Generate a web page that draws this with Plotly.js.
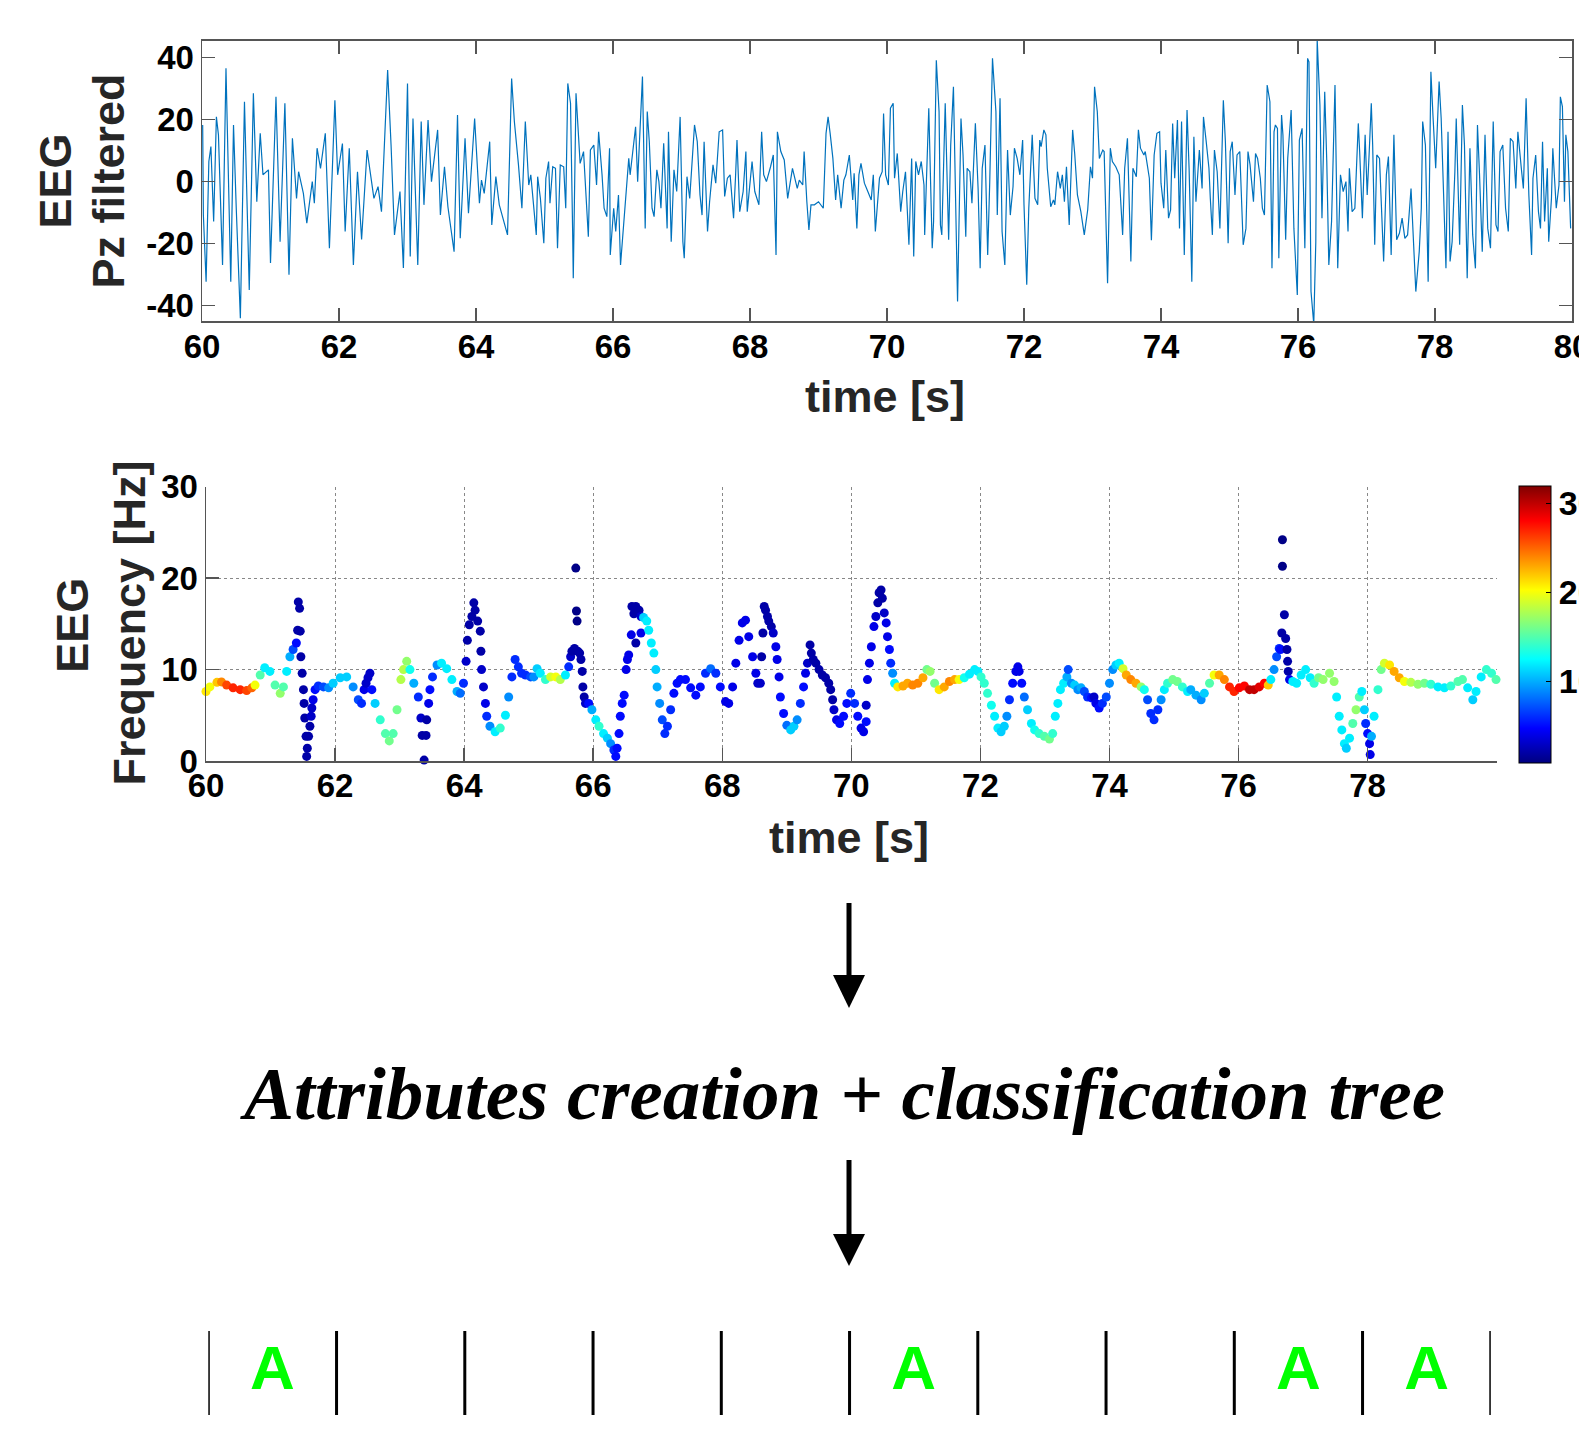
<!DOCTYPE html>
<html><head><meta charset="utf-8">
<script src="https://cdn.plot.ly/plotly-3.0.1.min.js"></script>
<style>html,body{margin:0;padding:0;background:#fff}#chart{width:1579px;height:1430px}</style>
</head><body><div id="chart"></div>
<script>
// ---------------- DATA ----------------
// Filtered EEG (Pz) trace, time [s] and amplitude
const eegTime = [
60.01,60.02,60.06,60.10,60.13,60.17,60.21,60.24,60.30,60.35,
60.42,60.46,60.50,60.56,60.62,60.69,60.75,60.80,60.85,60.89,
60.97,61.00,61.08,61.14,61.21,61.27,61.32,61.38,61.41,61.48,
61.53,61.61,61.64,61.68,61.73,61.80,61.86,61.94,61.98,62.05,
62.09,62.15,62.21,62.27,62.33,62.41,62.51,62.57,62.62,62.71,
62.76,62.81,62.89,62.94,63.00,63.04,63.08,63.15,63.20,63.24,
63.30,63.35,63.44,63.48,63.54,63.59,63.68,63.73,63.77,63.84,
63.89,63.98,64.05,64.08,64.12,64.20,64.23,64.29,64.34,64.46,
64.52,64.56,64.62,64.67,64.72,64.77,64.80,64.88,
64.90,64.94,64.99,65.02,65.06,65.08,65.12,65.16,65.19,65.23,
65.28,65.31,65.34,65.38,65.41,65.42,65.46,65.50,65.52,65.57,
65.60,65.64,65.67,65.72,65.76,65.79,65.84,65.87,65.91,65.95,
65.96,66.01,66.04,66.08,66.11,66.18,66.23,66.25,66.33,66.36,
66.40,66.43,66.47,66.50,66.53,66.57,66.60,66.64,66.67,66.70,
66.74,66.79,66.81,66.85,66.89,66.93,66.98,67.02,67.04,67.08,
67.12,67.17,67.19,67.23,67.27,67.30,67.33,67.38,67.41,67.46,
67.50,67.55,67.60,67.63,67.67,67.71,67.76,67.79,67.81,67.85,
67.90,67.94,67.96,68.03,68.07,68.13,68.17,68.20,68.24,68.30,
68.34,68.38,68.40,68.45,68.50,68.55,68.62,68.69,68.72,68.77,
68.79,68.83,68.86,68.89,68.94,69.00,69.07,69.11,69.14,69.17,
69.21,69.25,69.28,69.33,69.37,69.40,69.45,69.50,69.52,69.56,
69.59,69.62,69.67,69.72,69.77,69.80,69.83,69.89,
69.93,69.95,69.98,70.02,70.05,70.09,70.11,70.15,70.20,70.23,
70.27,70.32,70.36,70.39,70.42,70.46,70.50,70.54,70.55,70.61,
70.62,70.66,70.68,70.72,70.76,70.78,70.80,70.85,70.90,70.93,
70.97,71.00,71.03,71.08,71.11,71.15,71.17,71.21,71.24,71.29,
71.33,71.36,71.39,71.43,71.47,71.50,71.54,71.59,71.61,71.65,
71.68,71.72,71.76,71.80,71.84,71.86,71.90,71.94,71.98,72.00,
72.04,72.07,72.12,72.16,72.20,72.23,72.25,72.29,72.32,72.34,
72.39,72.43,72.45,72.49,72.53,72.56,72.59,72.62,72.66,72.71,
72.74,72.78,72.83,72.88,72.93,72.97,73.00,73.03,73.07,73.10,
73.15,73.17,73.22,73.26,73.29,73.34,73.39,73.44,73.47,73.51,
73.56,73.59,73.64,73.67,73.70,73.75,73.77,73.83,73.86,73.90,
73.94,73.98,74.00,74.04,74.07,74.11,74.14,74.17,74.20,74.24,
74.27,74.30,74.34,74.38,74.41,74.45,74.48,74.51,74.56,74.60,
74.62,74.66,74.70,74.72,
74.75,74.78,74.82,74.86,74.91,74.94,74.98,75.01,75.04,75.08,
75.11,75.15,75.20,75.24,75.27,75.30,75.35,75.38,75.41,75.45,
75.48,75.51,75.55,75.59,75.62,75.65,75.67,75.70,75.72,75.76,
75.78,75.82,75.85,75.90,75.94,75.99,76.02,76.06,76.10,76.14,
76.16,76.19,76.23,76.26,76.28,76.32,76.35,76.39,76.42,76.45,
76.49,76.54,76.56,76.58,76.62,76.66,76.70,76.73,76.75,76.79,
76.83,76.88,76.90,76.94,76.98,77.01,77.04,77.07,77.09,77.12,
77.15,77.19,77.25,77.29,77.32,77.36,77.40,77.44,77.48,77.52,
77.56,77.60,77.65,77.67,77.72,77.77,77.80,77.82,77.86,77.90,
77.94,77.97,78.01,78.06,78.09,78.16,78.19,78.22,78.25,78.29,
78.31,78.36,78.40,78.43,78.47,78.51,78.55,78.59,78.62,78.65,
78.69,78.73,78.77,78.81,78.85,78.89,78.92,78.95,78.99,79.03,
79.07,79.10,79.14,79.18,79.21,79.26,79.29,79.33,79.37,79.41,
79.43,79.47,79.51,79.54,79.57,79.60,79.64,79.66,79.70,79.72,
79.77,79.81,79.83,79.86,79.89,79.91,79.94,79.98];
const eegValue = [
18.3,-10.8,-32.3,6.5,11.3,-12.9,20.9,15.1,-26.9,36.6,
-32.3,18.3,-8.6,-44.1,25.8,-35.0,28.5,-6.5,15.6,2.2,
3.8,-26.3,27.4,-19.4,25.3,-30.1,14.0,-5.4,3.2,-3.8,
-13.4,0,-7,10.8,4.3,15.6,-21.5,26.3,2.2,12.3,
-16.1,10.8,-26.9,3.2,-18.7,10.2,-5.4,-1.6,-9.7,36.0,
11.8,-17.2,-3.2,-27.9,31.7,-24.2,20.4,-26.9,19.4,-7.5,
19.9,0,16.7,-10.8,4.8,-8.1,-22.6,21.5,-18.3,14.0,
-10.2,20.4,-7,0.5,-3.8,12.9,-14.0,1.6,-7.5,-17.2,
33.3,19.4,5.4,-8.6,19.4,-1.1,2.2,-17.2,
1.6,-5.4,-19.9,1.1,6.5,-7,4.8,4.3,-21.5,5.4,
4.8,-8.6,31.7,25.3,-15.1,-31.2,28.5,15.1,5.9,9.7,
-2.2,-17.8,10.2,11.8,-1.1,16.1,2.2,-8.6,-11.3,10.8,
-23.7,-8.6,-16.1,-4.3,-26.9,-8.1,7.5,2.2,17.7,0,
19.4,33.9,-15.1,22.6,12.9,-8.6,-11.3,3.8,0,-8.6,
12.4,-15.1,16.1,-19.4,3.8,-3.2,20.9,-19.4,-24.7,1.6,
-5.4,11.8,18.3,12.9,-4.3,-10.8,12.9,-16.1,-6.5,5.4,
-0.5,16.1,16.7,-4.8,1.1,2.2,-11.8,2.2,13.4,-9.7,
-3.2,9.7,-9.7,6.5,-3.2,-7.5,16.1,2.2,0,4.8,
8.6,-23.7,16.1,9.7,7,-5.4,4.3,-2.2,0.5,-1.1,
9.7,-6.5,-15.6,-7.5,-7.5,-6.5,-8.6,15.6,20.9,15.6,
7.5,-5.9,2.2,-8.6,0.5,2.2,8.6,-5.9,2.7,-15.1,
2.2,5.9,-0.5,-3.2,-5.9,2.2,-16.1,1.1,
3.2,22.0,2.2,-1.1,23.7,25.3,1.1,9.1,-9.7,-3.2,
3.2,-20.4,7.5,-24.2,6.5,2.2,6.5,-1.1,-17.2,23.7,
16.1,-21.5,-12.9,39.2,22.6,-14.0,-17.2,25.3,-18.8,11.8,
30.6,-4.3,-38.7,20.4,8.6,-17.8,4.3,3.2,-7,18.8,
-2.2,-28.0,4.3,11.8,-23.7,0,39.8,22.6,-10.8,26.9,
-16.1,-26.9,10.2,-10.8,-1.6,10.8,7.5,2.2,13.4,-7.5,
-33.3,-8.6,15.1,-5.4,-7.5,13.4,11.3,16.7,15.1,4.3,
-8.1,-5.9,-7.5,3.2,-2.2,2.2,-6.5,4.8,-14.0,16.7,
9.1,-4.3,-9.7,-17.2,-9.1,4.8,1.1,30.6,22.6,7.5,
10.2,9.7,-32.8,10.8,6.5,4.8,2.2,-17.2,4.3,14.0,
-25.8,4.3,1.6,16.7,10.8,8.6,9.7,1.1,-18.9,8.6,
15.6,16.1,-0.5,-8.6,10.2,-11.8,-9.1,18.8,1.1,19.9,
-15.1,19.4,-23.7,23.1,4.3,-32.3,14.5,-6.5,10.2,-2.2,
20.9,12.9,4.3,-5.4,
-17.2,10.2,3.2,-15.1,26.3,12.9,-19.9,9.7,12.9,-4.3,
8.6,9.7,-20.4,-15.1,9.7,5.4,-6.5,9.1,7.5,1.1,
-8.6,-10.8,31.2,25.8,-28.0,16.1,18.3,17.2,-24.7,21.5,
15.1,-18.8,7.5,23.1,-15.1,-36.6,13.4,17.2,-21.5,39.8,
38.7,-35.5,-46,-19.4,46,24.7,-11.8,29.0,6.5,-26.9,
-12.9,31.2,-7.5,-28.0,2.2,-3.2,0,-16.1,4.3,-9.7,
-8.6,18.8,9.7,-11.8,15.1,-4.3,9.7,25.3,11.8,-20.4,
8.6,7.5,-25.8,2.2,8.1,-23.7,15.1,-18.8,-16.7,-11.8,
-18.3,-17.2,-2.2,-11.3,-35.5,-22.6,-8.6,19.4,11.8,-32.3,
35.5,21.5,4.3,32.3,20.4,-28.0,16.1,-25.8,-19.4,3.2,
20.4,-20.4,24.7,11.8,-31.2,10.8,-17.2,-28.0,18.3,2.2,
-22.6,15.1,-15.1,-21.5,19.4,-14.0,-16.1,9.7,11.8,-8.6,
-16.1,14.0,12.9,-2.2,16.1,4.3,-2.2,26.9,-4.3,-23.7,
1.1,8.6,-9.7,-15.1,12.9,-12.9,4.3,-19.4,-5.4,10.8,
-8.6,-1.1,27.4,24.2,-6.5,15.1,9.7,-15.1];

// EEG frequency estimate: time [s], frequency [Hz], colour-coded level
const freqTime = [
60.00,60.06,60.17,60.24,60.32,60.42,60.53,60.63,60.71,60.76,
60.84,60.91,60.99,61.07,61.15,61.20,61.25,61.30,61.35,61.40,
61.42,61.43,61.45,61.46,61.47,61.49,61.51,61.52,61.53,61.55,
61.56,61.57,61.59,61.61,61.63,61.64,61.66,61.69,61.74,61.82,
61.90,61.97,62.08,62.18,62.28,62.36,62.41,62.45,62.48,62.51,
62.54,62.57,62.62,62.70,62.78,62.84,62.90,62.96,63.02,63.06,
63.11,63.16,63.22,63.29,63.33,63.35,63.38,63.41,63.42,63.45,
63.47,63.51,63.58,63.65,63.73,63.81,63.89,63.94,63.99,64.03,
64.05,64.08,64.12,64.15,64.17,64.21,64.25,64.26,64.27,64.30,
64.33,64.35,64.40,64.48,64.56,64.64,64.69,64.74,64.79,64.84,
64.89,64.95,
65.03,65.08,65.13,65.18,65.26,65.34,65.42,65.49,65.57,65.62,
65.65,65.67,65.71,65.73,65.74,65.75,65.76,65.79,65.81,65.83,
65.84,65.86,65.88,65.93,65.98,66.04,66.09,66.16,66.22,66.27,
66.32,66.35,66.37,66.40,66.42,66.45,66.48,66.51,66.53,66.55,
66.59,66.60,66.63,66.66,66.66,66.71,66.74,66.74,66.78,66.83,
66.86,66.90,66.94,66.97,66.99,67.03,67.07,67.11,67.15,67.20,
67.25,67.30,67.35,67.43,67.51,67.59,67.66,67.74,67.82,67.90,
67.97,68.05,68.10,68.16,68.21,68.26,68.31,68.36,68.41,68.47,
68.52,68.55,68.59,68.61,68.63,68.65,68.67,68.70,68.72,68.76,
68.79,68.83,68.85,68.88,68.90,68.95,69.00,69.06,69.11,69.16,
69.21,69.26,69.29,69.32,69.36,69.38,69.41,69.45,69.50,69.55,
69.60,69.65,69.68,69.71,69.73,69.77,69.82,69.88,69.93,
69.99,70.05,70.10,70.15,70.19,70.23,70.23,70.25,70.28,70.31,
70.35,70.38,70.41,70.43,70.46,70.48,70.51,70.54,70.56,70.59,
70.61,70.64,70.67,70.72,70.80,70.87,70.95,71.03,71.11,71.17,
71.22,71.29,71.36,71.44,71.52,71.60,71.67,71.75,71.83,71.91,
71.96,72.01,72.06,72.11,72.17,72.22,72.27,72.32,72.37,72.41,
72.45,72.50,72.55,72.58,72.60,72.64,72.68,72.73,72.79,72.84,
72.91,72.99,73.07,73.12,73.16,73.20,73.24,73.29,73.34,73.36,
73.41,73.46,73.51,73.56,73.61,73.66,73.72,73.76,73.79,73.84,
73.89,73.95,74.00,74.05,74.10,74.15,74.21,74.26,74.33,74.41,
74.49,74.54,74.59,74.64,74.69,74.75,74.80,74.85,74.90,74.98,
75.05,75.13,75.21,
75.26,75.34,75.42,75.47,75.55,75.62,75.70,75.78,75.86,75.93,
76.01,76.09,76.17,76.24,76.32,76.40,76.46,76.50,76.55,76.59,
76.63,76.65,76.67,76.68,76.68,76.71,76.73,76.75,76.76,76.77,
76.79,76.84,76.90,76.97,77.04,77.11,77.17,77.24,77.31,77.41,
77.48,77.52,77.56,77.60,77.64,77.67,77.72,77.77,77.82,77.87,
77.91,77.95,77.97,78.00,78.03,78.04,78.06,78.10,78.16,78.21,
78.26,78.34,78.41,78.49,78.57,78.67,78.78,78.88,78.98,79.09,
79.19,79.29,79.40,79.47,79.55,79.63,79.68,79.76,79.84,79.92,
79.99];
const freqHz = [
7.6,8.1,8.6,8.65,8.3,8.0,7.8,7.7,8.0,8.3,
9.4,10.2,9.8,8.3,7.4,8.1,9.8,11.4,12.2,12.9,
14.3,17.4,16.7,14.2,11.4,9.6,7.8,6.3,4.7,2.7,
0.5,1.4,2.7,3.8,4.9,5.8,6.7,7.8,8.2,8.1,
8.0,8.5,9.1,9.2,8.1,6.7,6.3,7.8,8.5,9.1,
9.6,7.8,6.3,4.5,3.0,2.2,3.0,5.6,8.9,10.0,
10.9,10.0,8.5,7.0,4.7,2.8,0.1,2.8,4.5,6.3,
7.8,9.2,10.5,10.7,10.1,8.9,7.6,7.4,8.5,10.9,
13.2,14.9,15.8,17.3,16.5,15.3,14.2,12.0,10.0,8.1,
6.3,4.9,3.8,3.2,3.6,5.0,7.0,9.2,11.1,10.3,
9.6,9.4,
9.2,9.2,10.1,9.6,8.9,9.2,9.2,8.9,9.4,10.3,
11.4,12.0,12.3,21.1,16.4,15.3,12.0,11.8,11.1,9.8,
8.1,7.0,6.3,6.3,5.6,4.5,3.8,3.0,2.5,1.9,
1.2,0.5,1.4,3.0,4.9,6.3,7.2,10.0,11.1,11.6,
13.8,16.9,16.1,16.9,12.9,16.5,15.8,14.0,15.7,15.3,
14.3,12.9,11.8,10.0,8.1,6.3,4.5,3.0,3.8,5.6,
7.4,8.5,8.9,8.9,8.0,7.2,8.1,9.6,10.1,9.6,
8.1,6.5,6.3,8.1,10.7,13.2,15.1,15.4,13.6,11.4,
9.6,8.5,8.5,11.4,14.0,16.9,16.5,15.8,15.3,14.7,
14.0,12.5,11.1,9.2,7.0,5.2,3.9,3.4,3.8,4.5,
6.3,8.1,9.6,10.7,12.7,11.8,11.1,10.7,10.0,9.4,
9.1,8.5,7.8,6.7,5.6,4.5,4.1,4.9,6.3,
7.4,6.3,4.9,3.6,3.2,4.3,6.1,8.9,10.7,12.5,
14.7,15.8,17.3,18.4,18.7,17.8,16.2,15.1,13.6,12.2,
10.7,9.6,8.5,8.1,8.2,8.5,8.3,8.5,9.1,10.0,
9.8,8.5,7.8,8.1,8.7,8.9,8.9,9.1,9.5,10.0,
9.8,9.2,8.5,7.4,6.1,4.9,3.6,3.2,3.8,4.9,
6.7,8.5,9.8,10.3,9.8,8.5,7.0,5.6,4.1,3.4,
3.0,2.7,2.4,3.0,4.9,6.3,7.8,8.5,9.2,10.0,
8.5,8.3,7.8,8.0,7.6,7.0,6.9,7.0,6.3,5.8,
6.3,7.0,8.5,10.0,10.5,10.7,10.1,9.4,8.9,8.5,
8.1,7.8,6.7,5.2,4.5,5.6,6.7,7.8,8.5,8.9,
8.7,8.1,7.6,
7.8,7.2,6.7,7.4,8.5,9.4,9.4,8.9,8.1,7.6,
8.0,8.2,7.8,7.8,8.1,8.5,8.3,8.9,10.0,11.4,
12.3,12.2,14.0,24.2,21.3,16.0,13.4,12.2,10.9,9.8,
8.9,8.7,8.5,9.4,10.0,9.1,8.5,9.1,8.9,9.6,
8.7,7.0,4.9,3.4,1.9,1.4,2.5,4.1,5.6,7.0,
7.6,5.6,4.1,3.0,1.9,0.7,2.7,4.9,7.8,10.0,
10.7,10.5,9.8,9.1,8.7,8.6,8.4,8.5,8.4,8.1,
8.0,8.2,8.7,8.9,8.0,6.7,7.6,9.2,10.0,9.6,
8.9];
const freqLevel = [
21,20,22,24,26,27,27,26,25,20,
15,12,12,15,17,15,12,10,7,5,
2,2,2,2,2,2,2,2,2,2,
2,2,2,2,3,3,4,5,6,7,
9,11,11,11,9,7,6,4,3,3,
3,5,11,14,15,16,15,16,18,18,
17,13,10,6,3,2,2,2,2,4,
5,6,9,12,12,12,10,8,6,3,
2,2,2,2,2,2,2,2,3,3,
4,6,9,12,14,12,9,6,6,6,
6,6,
7,9,11,12,14,19,20,18,12,6,
3,2,2,1,1,1,2,2,2,2,
2,2,3,5,10,12,14,12,11,9,
6,5,5,5,5,5,5,4,4,4,
4,2,2,2,2,2,3,4,11,12,
12,12,12,11,10,9,7,6,6,6,
5,5,5,5,5,5,5,6,8,6,
5,4,4,4,4,4,4,4,4,4,
4,3,3,2,2,2,2,2,2,2,
3,4,4,4,5,5,8,11,11,9,
6,5,4,3,2,2,2,2,2,2,
2,2,2,2,3,4,5,5,5,
6,6,5,4,4,5,3,4,4,4,
4,3,2,2,2,2,3,4,4,5,
6,9,12,21,23,23,24,24,23,16,
17,16,21,23,24,23,20,13,12,12,
12,14,14,14,13,12,12,11,11,9,
6,5,4,4,4,5,8,11,12,13,
14,15,16,14,12,12,12,12,10,7,
9,11,9,10,7,6,5,3,4,5,
6,7,9,9,11,12,19,23,24,23,
17,13,7,6,6,6,9,12,14,16,
16,14,12,
10,10,9,11,15,20,23,24,27,27,
28,28,30,30,29,28,22,12,9,7,
6,5,2,1,1,2,2,2,2,2,
4,12,12,12,12,12,14,16,17,17,
17,12,12,12,12,11,12,15,17,15,
12,11,6,5,4,4,10,12,14,16,
19,21,23,23,20,18,17,16,14,12,
12,14,15,15,12,11,12,12,14,14,
15];

// 2-second classification epochs and their labels
const epochEdges = [60,62,64,66,68,70,72,74,76,78,80];
const epochLabels = ['A','','','','','A','','','A','A'];

// Axis ticks
const eegTicks = [-40,-20,0,20,40];
const eegTickText = ['-40','-20','0','20','40'];
const timeTicks = [60,62,64,66,68,70,72,74,76,78,80];
const freqTimeTicks = [60,62,64,66,68,70,72,74,76,78];
const freqTicks = [0,10,20,30];
const levelTicks = [10,20,30];

// ---------------- LAYOUT ----------------
const W = 1579, H = 1430;
const px = x => x / W;
const py = y => 1 - y / H;

const jet = [[0,'rgb(0,0,128)'],[0.125,'rgb(0,0,255)'],[0.375,'rgb(0,255,255)'],
             [0.625,'rgb(255,255,0)'],[0.875,'rgb(255,0,0)'],[1,'rgb(128,0,0)']];

const FONT = 'Liberation Sans, Arial, Helvetica, sans-serif';
const AX = '#555555';

const epochCenters = epochEdges.slice(0,-1).map((e,i)=>(e+epochEdges[i+1])/2);

const traces = [
  {type:'scatter', mode:'lines', x:eegTime, y:eegValue, xaxis:'x', yaxis:'y',
   line:{color:'#0072BD', width:1.2}, hoverinfo:'skip'},
  {type:'scatter', mode:'markers', x:freqTime, y:freqHz, xaxis:'x2', yaxis:'y2',
   cliponaxis:false, hoverinfo:'skip',
   marker:{size:9, color:freqLevel, colorscale:jet, cmin:0.8, cmax:32, line:{width:0},
     showscale:true,
     colorbar:{x:px(1519.3), xanchor:'left', xref:'paper', y:py(624.2), yanchor:'middle', yref:'paper',
       len:277, lenmode:'pixels', thickness:32, thicknessmode:'pixels', xpad:0, ypad:0,
       outlinewidth:1, outlinecolor:'#000', borderwidth:0,
       tickvals:levelTicks, ticks:'inside', ticklen:5, tickcolor:'#000',
       tickfont:{family:FONT, size:34, color:'#000', weight:'bold'}}}},
  {type:'scatter', mode:'text', x:epochCenters, y:epochCenters.map(()=>0.5), text:epochLabels,
   xaxis:'x3', yaxis:'y3', textposition:'middle center', hoverinfo:'skip', cliponaxis:false,
   textfont:{family:FONT, size:62, color:'#00FF00', weight:'bold'}}
];

const shapes = [];
epochEdges.forEach(e => shapes.push({type:'line', xref:'x3', yref:'y3', x0:e, x1:e, y0:0, y1:1,
  line:{color:'#000', width:3}}));
function arrow(top, headTop, tip){
  shapes.push({type:'line', xref:'paper', yref:'paper', x0:px(849), x1:px(849), y0:py(top), y1:py(headTop+6),
    line:{color:'#000', width:5}});
  shapes.push({type:'path', xref:'paper', yref:'paper',
    path:`M ${px(833)} ${py(headTop)} L ${px(865)} ${py(headTop)} L ${px(849)} ${py(tip)} Z`,
    fillcolor:'#000', line:{width:0}});
}
arrow(903, 975, 1008);
arrow(1160, 1234, 1266);

const titleFont = {family:FONT, size:45, color:'#262626', weight:'bold'};
const ann = (text, x, y, angle, font) => ({text, x:px(x), y:py(y), xref:'paper', yref:'paper',
  showarrow:false, textangle:angle||0, xanchor:'center', yanchor:'middle', font});

const annotations = [
  ann('EEG', 54.5, 181, -90, titleFont),
  ann('Pz filtered', 107.5, 181, -90, titleFont),
  ann('time [s]', 885, 396, 0, titleFont),
  ann('EEG', 71.7, 625, -90, titleFont),
  ann('Frequency [Hz]', 129, 623.5, -90, titleFont),
  ann('time [s]', 849, 837, 0, titleFont),
  ann('<b><i>Attributes creation + classification tree</i></b>', 842, 1093, 0,
      {family:'Liberation Serif, Times New Roman, serif', size:75, color:'#000'})
];

const tickFont = {family:FONT, size:33, color:'#000', weight:'bold'};
const baseAxis = {showline:true, linecolor:AX, linewidth:1.5, ticks:'inside', ticklen:13, tickwidth:1.5,
  tickcolor:AX, zeroline:false, tickfont:tickFont, fixedrange:true, automargin:false,
  ticklabeloverflow:'allow'};

const layout = {
  width:W, height:H, margin:{l:0,r:0,t:0,b:0,pad:0,autoexpand:false}, paper_bgcolor:'#fff', plot_bgcolor:'#fff',
  showlegend:false, font:{family:FONT},
  xaxis:Object.assign({}, baseAxis, {domain:[px(202),px(1572)], range:[60,80], tickvals:timeTicks,
    mirror:'ticks', showgrid:false, anchor:'y', ticklabelstandoff:-4}),
  yaxis:Object.assign({}, baseAxis, {domain:[py(321),py(40.7)], range:[-45,45.5], tickvals:eegTicks,
    ticktext:eegTickText, mirror:'ticks', showgrid:false, anchor:'x', ticklabelstandoff:0}),
  xaxis2:Object.assign({}, baseAxis, {domain:[px(206),px(1496.7)], range:[60,80], tickvals:freqTimeTicks,
    showgrid:true, gridcolor:'#888', gridwidth:1, griddash:'dot', anchor:'y2', ticklabelstandoff:-5}),
  yaxis2:Object.assign({}, baseAxis, {domain:[py(761),py(486.7)], range:[0,30], tickvals:freqTicks,
    showgrid:true, gridcolor:'#888', gridwidth:1, griddash:'dot', anchor:'x2', ticklabelstandoff:0}),
  xaxis3:{domain:[px(208.3),px(1490.8)], range:[60,80], visible:false, anchor:'y3', fixedrange:true},
  yaxis3:{domain:[py(1415),py(1331)], range:[0,1], visible:false, anchor:'x3', fixedrange:true},
  shapes, annotations
};

Plotly.newPlot('chart', traces, layout, {staticPlot:true, displayModeBar:false});
</script></body></html>
